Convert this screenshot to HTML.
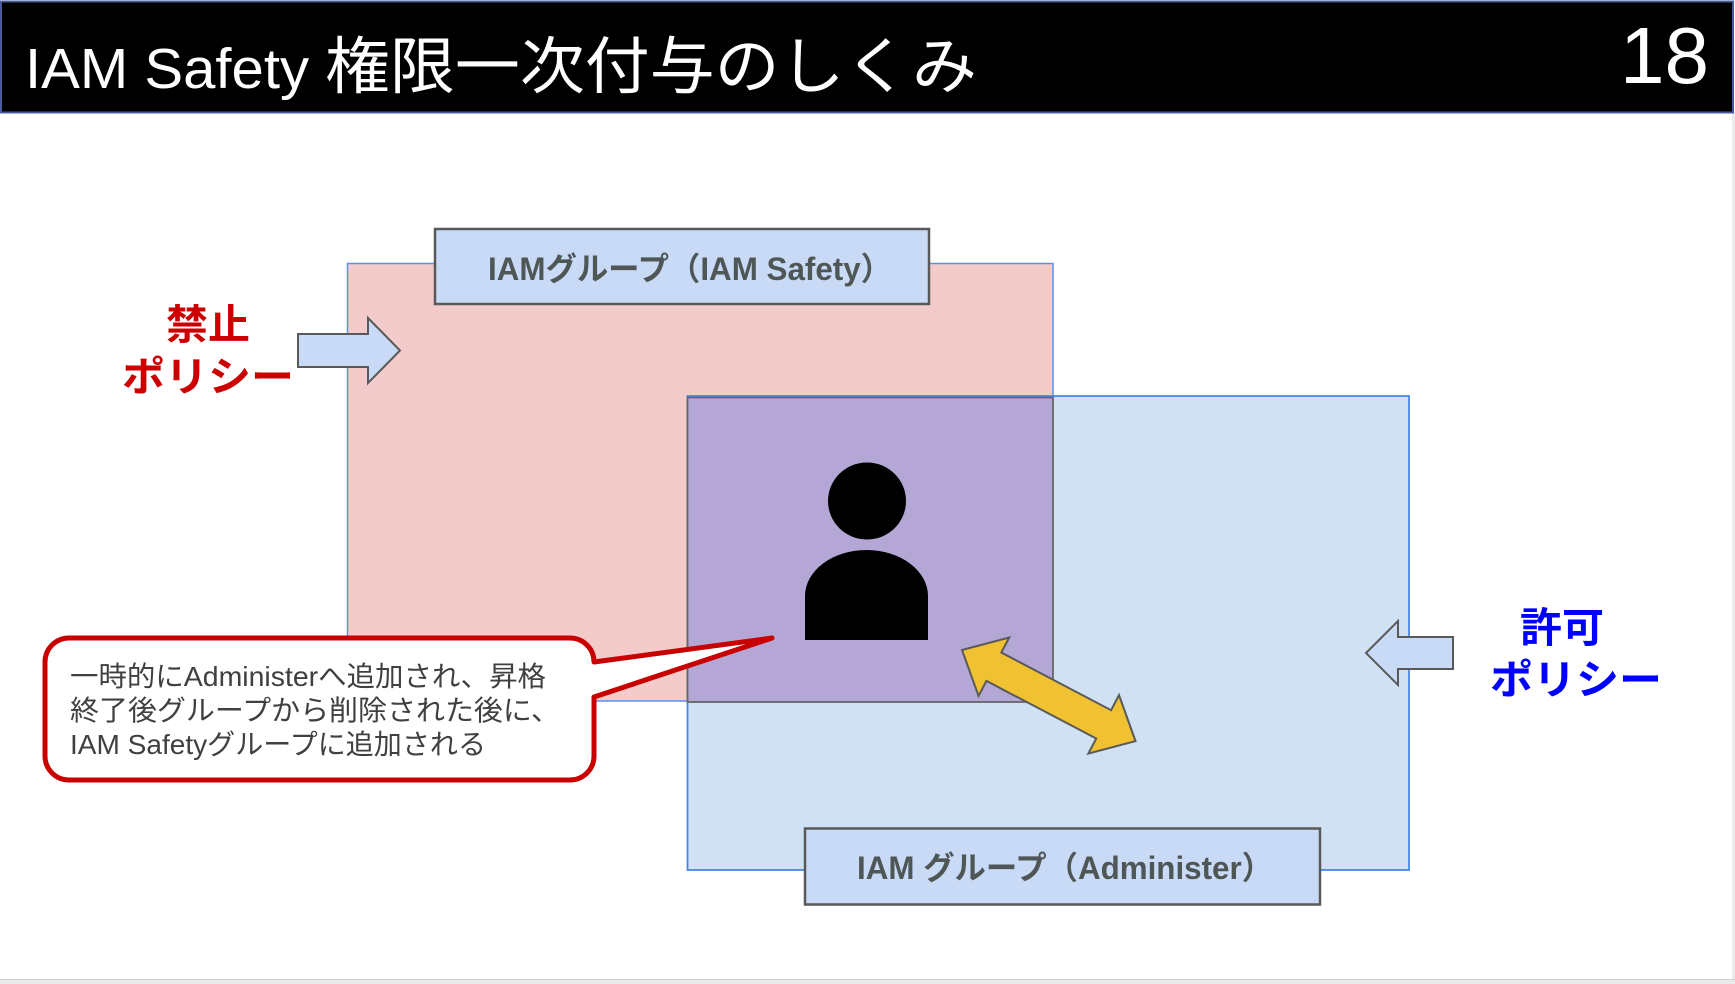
<!DOCTYPE html>
<html><head><meta charset="utf-8"><style>
html,body{margin:0;padding:0;background:#fff;}
body{width:1735px;height:984px;overflow:hidden;}
svg{display:block;}
text{font-family:"Liberation Sans","Noto Sans CJK JP",sans-serif;}
</style></head><body>
<svg width="1735" height="984" viewBox="0 0 1735 984" xmlns="http://www.w3.org/2000/svg">
  <rect x="0" y="0" width="1735" height="984" fill="#ffffff"/>
  <!-- right edge & bottom band -->
  <rect x="1732" y="113" width="3" height="866" fill="#ececec"/>
  <rect x="0" y="979" width="1735" height="5" fill="#e9e9e9"/>
  <rect x="0" y="979" width="1735" height="1" fill="#d2d2d2"/>

  <!-- header -->
  <rect x="1" y="1.5" width="1732" height="111" fill="#000000" stroke="#4a5c9c" stroke-width="2"/>
  <text x="25" y="88" font-size="57" fill="#ffffff" textLength="284" lengthAdjust="spacingAndGlyphs">IAM Safety</text>
  <text x="325" y="88" font-size="62" fill="#ffffff" font-family="'Noto Sans CJK JP',sans-serif" textLength="652" lengthAdjust="spacingAndGlyphs">権限一次付与のしくみ</text>
  <text x="1709" y="83" font-size="80" fill="#ffffff" text-anchor="end">18</text>

  <!-- pink group rect -->
  <rect x="347.5" y="263.5" width="705.5" height="437.5" fill="#f3cbcb" stroke="#5b8ff0" stroke-width="1.5"/>
  <!-- blue group rect -->
  <rect x="687.5" y="396" width="721.5" height="474" fill="#cfe1f3" stroke="#4a86e8" stroke-width="1.8"/>
  <!-- overlap purple -->
  <rect x="687.5" y="397.5" width="365.5" height="304.5" fill="#b4a7d5" stroke="#666666" stroke-width="1.8"/>

  <!-- top label box -->
  <rect x="435" y="229" width="494" height="75" fill="#c9daf7" stroke="#595959" stroke-width="2.5"/>
  <text x="690" y="280" font-size="32" font-weight="bold" fill="#4e5656" text-anchor="middle" textLength="404" lengthAdjust="spacingAndGlyphs">IAMグループ（IAM Safety）</text>

  <!-- bottom label box -->
  <rect x="805" y="828.5" width="515" height="76" fill="#c9daf7" stroke="#595959" stroke-width="2.5"/>
  <text x="1065" y="879" font-size="32" font-weight="bold" fill="#4e5656" text-anchor="middle" textLength="416" lengthAdjust="spacingAndGlyphs">IAM グループ（Administer）</text>

  <!-- 禁止 policy -->
  <text x="208" y="339" font-size="41" font-weight="bold" fill="#cc0000" text-anchor="middle" textLength="84" lengthAdjust="spacingAndGlyphs">禁止</text>
  <text x="208" y="391" font-size="41" font-weight="bold" fill="#cc0000" text-anchor="middle" textLength="172" lengthAdjust="spacingAndGlyphs">ポリシー</text>
  <polygon points="298,334 368,334 368,318 400,350.5 368,383 368,367 298,367" fill="#c9daf7" stroke="#595959" stroke-width="2"/>

  <!-- 許可 policy -->
  <text x="1562" y="642" font-size="41" font-weight="bold" fill="#0000ff" text-anchor="middle" textLength="84" lengthAdjust="spacingAndGlyphs">許可</text>
  <text x="1576" y="694" font-size="41" font-weight="bold" fill="#0000ff" text-anchor="middle" textLength="172" lengthAdjust="spacingAndGlyphs">ポリシー</text>
  <polygon points="1453,637 1398,637 1398,621 1366,653 1398,685 1398,669 1453,669" fill="#c9daf7" stroke="#595959" stroke-width="2"/>

  <!-- person -->
  <ellipse cx="867" cy="501" rx="39" ry="38.5" fill="#000000"/>
  <path d="M805,640 V596 A61.5,46 0 0 1 928,596 V640 Z" fill="#000000"/>

  <!-- yellow double arrow -->
  <g transform="translate(962,650) rotate(27.7)">
    <polygon points="0,0 36,-33 36,-16 160,-16 160,-33 196,0 160,33 160,16 36,16 36,33" fill="#f0c232" stroke="#595959" stroke-width="2" stroke-linejoin="miter"/>
  </g>

  <!-- callout -->
  <path d="M69,638 H570 A24,24 0 0 1 594,662 L772,638 L594,697 V756 A24,24 0 0 1 570,780 H69 A24,24 0 0 1 45,756 V662 A24,24 0 0 1 69,638 Z" fill="#ffffff" stroke="#c80000" stroke-width="5" stroke-linejoin="round"/>
  <text x="70" y="686" font-size="28" fill="#404040" textLength="476" lengthAdjust="spacingAndGlyphs">一時的にAdministerへ追加され、昇格</text>
  <text x="70" y="720" font-size="28" fill="#404040" textLength="490" lengthAdjust="spacingAndGlyphs">終了後グループから削除された後に、</text>
  <text x="70" y="754" font-size="28" fill="#404040" textLength="416" lengthAdjust="spacingAndGlyphs">IAM Safetyグループに追加される</text>
</svg>
</body></html>
